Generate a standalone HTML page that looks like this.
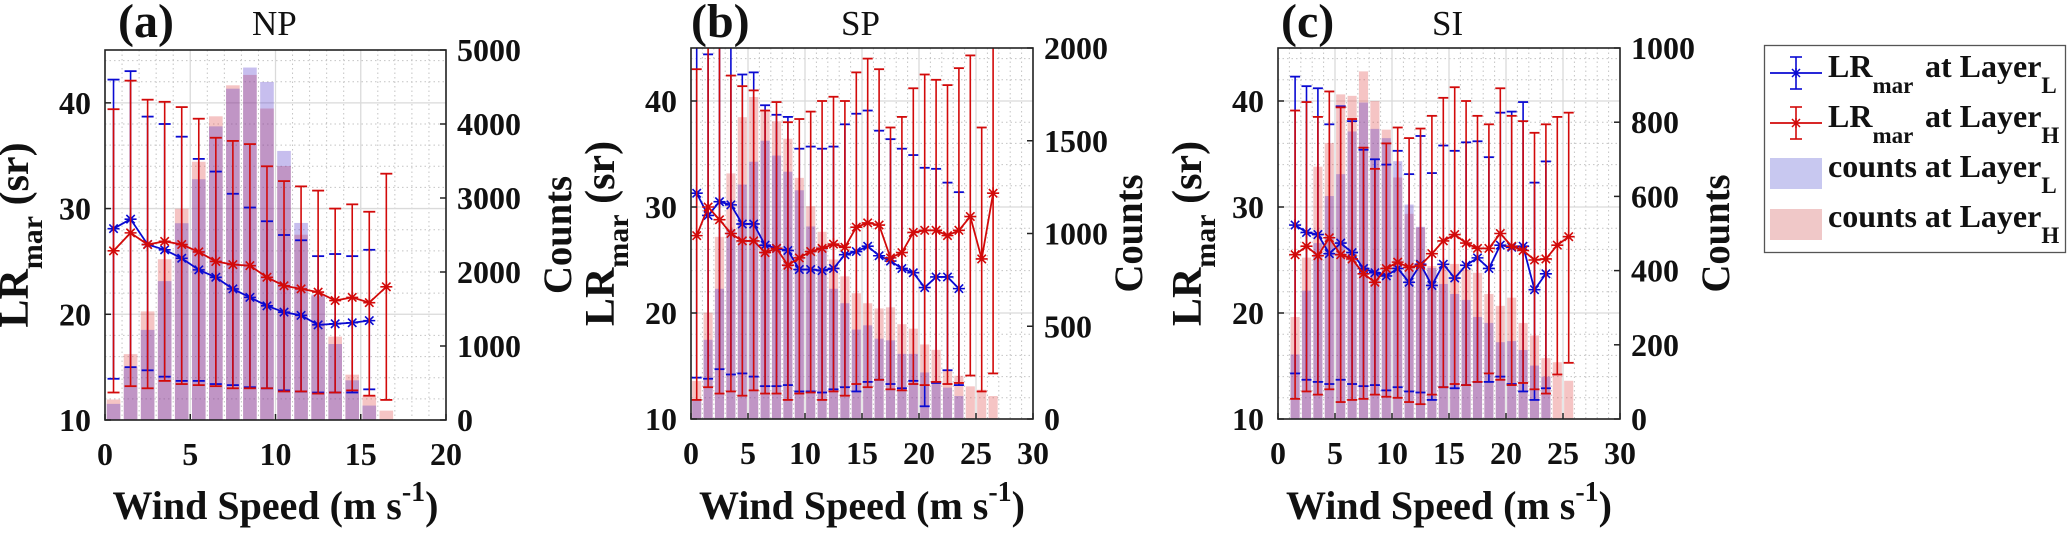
<!DOCTYPE html>
<html><head><meta charset="utf-8"><style>
html,body{margin:0;padding:0;background:#fff;}
svg, svg text{font-family:"Liberation Serif","Times New Roman","DejaVu Serif",serif;}
</style></head><body>
<svg id="fig" width="2067" height="528" viewBox="0 0 2067 528" xmlns="http://www.w3.org/2000/svg"></svg>
<script>
// ---- Panel (a) NP ----
const aBins=[0.5,1.5,2.5,3.5,4.5,5.5,6.5,7.5,8.5,9.5,10.5,11.5,12.5,13.5,14.5,15.5,16.5];
const aCountL=[218,710,1218,1877,2659,3254,3968,4477,4763,4568,3636,2663,1695,1027,536,195];
const aCountH=[277,890,1468,2173,2855,3490,4104,4523,4663,4209,3432,2504,1672,1127,613,332,127];
const aMeanL=[28.1,29.0,26.6,26.1,25.3,24.2,23.5,22.4,21.6,20.8,20.2,19.9,19.0,19.1,19.2,19.4];
const aHiL=[42.2,43.0,38.7,38.0,36.8,34.7,33.5,31.4,30.1,28.8,27.5,27.0,25.5,25.7,25.5,26.1];
const aLoL=[13.9,15.0,14.7,14.1,13.7,13.7,13.4,13.3,13.1,13.0,12.8,12.7,12.6,12.6,12.6,12.9];
const aMeanH=[26.0,27.7,26.6,26.9,26.6,25.9,25.0,24.7,24.6,23.5,22.7,22.4,22.1,21.3,21.6,21.1,22.6];
const aHiH=[39.4,42.1,40.3,40.1,39.6,38.5,36.7,36.4,36.1,34.0,32.6,32.1,31.7,30.0,30.4,29.7,33.3];
const aLoH=[12.6,13.2,13.0,13.7,13.4,13.3,13.2,13.0,13.0,13.0,12.7,12.7,12.5,12.6,12.8,12.3,11.9];
// ---- Panel (b) SP ----
const bBins=[0.5,1.5,2.5,3.5,4.5,5.5,6.5,7.5,8.5,9.5,10.5,11.5,12.5,13.5,14.5,15.5,16.5,17.5,18.5,19.5,20.5,21.5,22.5,23.5,24.5,25.5,26.5];
const bCountL=[100,427,702,1024,1264,1387,1500,1420,1333,1233,1038,933,702,624,482,505,433,424,351,351,251,205,169,124];
const bCountH=[205,573,982,1324,1627,1736,1660,1605,1511,1300,1147,1009,860,769,678,624,596,602,511,487,402,373,264,233,176,158,124];
const bMeanL=[31.3,29.2,30.5,30.2,28.4,28.4,26.4,26.1,25.9,24.1,24.1,24.0,24.2,25.5,25.8,26.3,25.4,24.9,24.2,23.8,22.4,23.4,23.4,22.3];
const bHiL=[47,44.4,47,46,42.5,42.7,39.6,38.7,38.5,35.5,35.7,35.5,35.7,37.8,38.8,39.1,37.2,36.4,35.5,34.9,33.7,33.6,32.3,31.4];
const bLoL=[13.9,13.8,14.7,14.2,14.3,14.0,13.1,13.1,13.2,12.6,12.6,12.5,12.8,13.0,12.6,13.5,13.7,13.3,12.9,13.6,11.2,13.4,14.6,13.2];
const bMeanH=[27.3,30.0,28.8,27.5,26.8,26.8,25.7,26.1,24.5,25.2,25.8,26.1,26.5,26.2,28.1,28.5,28.3,25.2,25.7,27.6,27.8,27.8,27.3,27.8,29.1,25.1,31.3];
const bHiH=[43.0,48,48,42.4,41.4,41.0,39.1,39.9,38.0,38.3,39.0,40.0,40.4,40.0,42.7,44.0,43.0,37.5,38.5,41.2,42.5,42.0,41.5,43.1,44.3,37.5,48];
const bLoH=[11.8,13.0,12.4,12.6,12.2,12.7,12.4,12.4,11.8,12.4,12.5,11.8,12.6,12.2,13.3,13.0,13.7,12.8,12.7,13.3,13.2,13.5,13.3,13.4,14.1,12.6,14.3];
// ---- Panel (c) SI ----
const cBins=[1.5,2.5,3.5,4.5,5.5,6.5,7.5,8.5,9.5,10.5,11.5,12.5,13.5,14.5,15.5,16.5,17.5,18.5,19.5,20.5,21.5,22.5,23.5,24.5,25.5];
const cCountL=[174,346,474,601,660,775,853,782,757,695,578,518,407,364,337,321,275,259,207,210,186,144,114];
const cCountH=[275,435,680,744,875,871,937,857,780,651,553,516,412,416,418,403,394,337,305,327,259,225,164,153,103];
const cMeanL=[28.3,27.6,27.4,25.6,26.6,25.7,24.2,23.8,23.5,24.2,22.9,24.6,22.6,24.6,23.3,24.5,25.2,24.2,26.4,26.2,26.3,22.2,23.7];
const cHiL=[42.3,41.4,41.2,37.8,39.5,38.1,35.4,34.5,34.0,35.3,33.1,36.7,33.2,35.8,35.3,36.1,36.2,34.7,38.9,39.0,39.9,32.3,34.3];
const cLoL=[14.3,13.7,13.5,13.3,13.7,13.3,13.1,13.2,12.7,13.0,12.6,12.5,11.8,13.0,12.9,13.2,13.5,13.5,14.0,13.3,12.6,11.8,12.9];
const cMeanH=[25.5,26.3,25.4,27.1,25.5,25.1,23.7,22.9,24.2,24.8,24.3,24.5,25.6,26.8,27.4,26.6,26.1,26.1,27.5,26.3,25.9,25.0,25.1,26.4,27.2];
const cHiH=[39.1,39.9,38.5,40.9,39.4,38.3,35.6,33.6,36.0,37.5,36.5,37.4,38.6,40.3,41.3,40.0,38.6,37.8,41.2,38.6,38.1,37.0,37.8,38.5,38.9];
const cLoH=[11.9,12.6,12.3,12.8,11.6,11.8,11.9,12.3,12.1,12.0,11.6,11.4,12.3,13.0,13.3,13.2,13.5,14.3,13.7,13.2,13.4,12.8,12.4,14.2,15.3];
// tick labels
const aXTicks=[0,5,10,15,20];
const bcXTicks=[0,5,10,15,20,25,30];
const yTicks=[10,20,30,40];
const aCTicks=[0,1000,2000,3000,4000,5000];
const bCTicks=[0,500,1000,1500,2000];
const cCTicks=[0,200,400,600,800,1000];

const NS="http://www.w3.org/2000/svg";
const FONT='"Liberation Serif","Times New Roman","DejaVu Serif",serif';
const svg=document.getElementById('fig');
function mk(tag,attrs,parent){const e=document.createElementNS(NS,tag);for(const k in attrs)e.setAttribute(k,attrs[k]);if(tag==='text')e.setAttribute('font-family',FONT);(parent||svg).appendChild(e);return e;}
const BLUE='#0a0ad2',RED='#d20a0a';

function panel(p){
  const g=mk('g',{});
  
  
  const X=v=>p.l+(v/p.xmax)*(p.r-p.l);
  const Y=v=>p.b-(v-10)/35*(p.b-p.t);
  const C=v=>p.b-(v/p.cmax)*(p.b-p.t);
  const cid='clip'+p.id;
  const cp=mk('clipPath',{id:cid},g);mk('rect',{x:p.l,y:p.t,width:p.r-p.l,height:p.b-p.t},cp);
  const grid=mk('g',{},g);
  
  
  for(let v=1;v<p.xmax;v++){ if(v%5) mk('line',{x1:X(v),x2:X(v),y1:p.t,y2:p.b,stroke:'#c4c4c4','stroke-width':1,'stroke-dasharray':'1.5 3'},grid);}
  for(let v=12;v<45;v+=2){ if(v%10) mk('line',{x1:p.l,x2:p.r,y1:Y(v),y2:Y(v),stroke:'#c4c4c4','stroke-width':1,'stroke-dasharray':'1.5 3'},grid);}
  p.xt.forEach(v=>mk('line',{x1:X(v),x2:X(v),y1:p.t,y2:p.b,stroke:'#dadada','stroke-width':1.3},grid));
  yTicks.forEach(v=>mk('line',{x1:p.l,x2:p.r,y1:Y(v),y2:Y(v),stroke:'#dadada','stroke-width':1.3},grid));
  const bw=0.8*(X(1)-X(0));
  const bars=mk('g',{'clip-path':'url(#'+cid+')'},g);
  p.cH.forEach((v,i)=>{const r=mk('rect',{x:X(p.bins[i])-bw/2,y:C(v),width:bw,height:p.b-C(v),fill:'rgb(225,70,70)','fill-opacity':0.32},bars);
    
    });
  p.cL.forEach((v,i)=>{const r=mk('rect',{x:X(p.bins[i])-bw/2,y:C(v),width:bw,height:p.b-C(v),fill:'rgb(70,40,200)','fill-opacity':0.3},bars);
    
    });
  const cap=p.cap;
  function series(mean,hi,lo,col,nm){
    const sg=mk('g',{'clip-path':'url(#'+cid+')'},g);
    
    
    mean.forEach((m,i)=>{const x=X(p.bins[i]);
      mk('line',{x1:x,x2:x,y1:Y(hi[i]),y2:Y(lo[i]),stroke:col,'stroke-width':1.6},sg);
      mk('line',{x1:x-cap,x2:x+cap,y1:Y(hi[i]),y2:Y(hi[i]),stroke:col,'stroke-width':1.8},sg);
      mk('line',{x1:x-cap,x2:x+cap,y1:Y(lo[i]),y2:Y(lo[i]),stroke:col,'stroke-width':1.8},sg);});
    const pts=mean.map((m,i)=>X(p.bins[i])+','+Y(m)).join(' ');
    mk('polyline',{points:pts,fill:'none',stroke:col,'stroke-width':1.8},sg);
    mean.forEach((m,i)=>{const x=X(p.bins[i]),y=Y(m),s=6;
      const d=`M${x-s},${y}H${x+s}M${x},${y-s}V${y+s}M${x-s*0.7},${y-s*0.7}L${x+s*0.7},${y+s*0.7}M${x-s*0.7},${y+s*0.7}L${x+s*0.7},${y-s*0.7}`;
      const mkp=mk('path',{d:d,stroke:col,'stroke-width':1.6,fill:'none'},sg);
      
      });
  }
  series(p.mL,p.hL,p.lL,BLUE,'series-lr-l-'+p.id);
  series(p.mH,p.hH,p.lH,RED,'series-lr-h-'+p.id);
  const bx=mk('rect',{x:p.l,y:p.t,width:p.r-p.l,height:p.b-p.t,fill:'none',stroke:'#222','stroke-width':1.6},g);
  
  
  const tf={'font-weight':'bold','font-size':32,fill:'#111'};
  p.xt.forEach(v=>{mk('line',{x1:X(v),x2:X(v),y1:p.b,y2:p.b-6,stroke:'#222','stroke-width':1.5},g);
    const t=mk('text',Object.assign({x:X(v),y:p.b+45,'text-anchor':'middle'},tf),g);t.textContent=v;
    
    });
  yTicks.forEach(v=>{mk('line',{x1:p.l,x2:p.l+6,y1:Y(v),y2:Y(v),stroke:'#222','stroke-width':1.5},g);
    const t=mk('text',Object.assign({x:p.l-14,y:Y(v)+11,'text-anchor':'end'},tf),g);t.textContent=v;
    
    });
  p.ct.forEach(v=>{mk('line',{x1:p.r,x2:p.r-6,y1:C(v),y2:C(v),stroke:'#222','stroke-width':1.5},g);
    const t=mk('text',Object.assign({x:p.r+11,y:C(v)+11,'text-anchor':'start'},tf),g);t.textContent=v;
    
    });
  const yl=mk('text',{transform:`translate(${p.ylx},${(p.t+p.b)/2}) rotate(-90)`,'text-anchor':'middle','font-weight':'bold','font-size':42,fill:'#111'},g);
  yl.innerHTML='LR<tspan font-size="30" dy="14">mar</tspan><tspan dy="-14"> (sr)</tspan>';
  
  
  const cl=mk('text',{transform:`translate(${p.r+p.cOff},${(p.t+p.b)/2}) rotate(-90)`,'text-anchor':'middle','font-weight':'bold','font-size':40,fill:'#111',textLength:118,lengthAdjust:'spacingAndGlyphs'},g);
  cl.textContent='Counts';
  
  
  const xl=mk('text',{x:(p.l+p.r)/2,y:519,'text-anchor':'middle','font-weight':'bold','font-size':40,fill:'#111'},g);
  xl.innerHTML='Wind Speed (m s<tspan font-size="28" dy="-18">-1</tspan><tspan dy="18">)</tspan>';
  
  
  const pl=mk('text',{x:p.tx,y:37,'font-weight':'bold','font-size':48,fill:'#111'},g);
  pl.textContent=p.letter;
  
  
  const rn=mk('text',{x:p.rx,y:35,'font-size':35,fill:'#111'},g);
  rn.textContent=p.region;
  
  
}
panel({id:'a',l:105,r:446,t:50,b:420,xmax:20,cmax:5000,xt:aXTicks,ct:aCTicks,bins:aBins,cL:aCountL,cH:aCountH,mL:aMeanL,hL:aHiL,lL:aLoL,mH:aMeanH,hH:aHiH,lH:aLoH,cap:6,ylx:28,cOff:125,tx:118,rx:252,letter:'(a)',region:'NP'});
panel({id:'b',l:691,r:1033,t:48,b:419,xmax:30,cmax:2000,xt:bcXTicks,ct:bCTicks,bins:bBins,cL:bCountL,cH:bCountH,mL:bMeanL,hL:bHiL,lL:bLoL,mH:bMeanH,hH:bHiH,lH:bLoH,cap:5,ylx:614,cOff:109,tx:691,rx:841,letter:'(b)',region:'SP'});
panel({id:'c',l:1278,r:1620,t:48,b:419,xmax:30,cmax:1000,xt:bcXTicks,ct:cCTicks,bins:cBins,cL:cCountL,cH:cCountH,mL:cMeanL,hL:cHiL,lL:cLoL,mH:cMeanH,hH:cHiH,lH:cLoH,cap:5,ylx:1201,cOff:109,tx:1281,rx:1432,letter:'(c)',region:'SI'});

const lg=mk('g',{});


mk('rect',{x:1764.5,y:45.5,width:301,height:207,fill:'#fff',stroke:'#555','stroke-width':1.3},lg);
[[73,BLUE,'L'],[123,RED,'H']].forEach(([y,c,s])=>{
  const e=mk('g',{},lg);
  
  
  mk('line',{x1:1770,x2:1822,y1:y,y2:y,stroke:c,'stroke-width':1.8},e);
  mk('line',{x1:1796,x2:1796,y1:y-16,y2:y+16,stroke:c,'stroke-width':1.6},e);
  mk('line',{x1:1790,x2:1802,y1:y-16,y2:y-16,stroke:c,'stroke-width':1.6},e);
  mk('line',{x1:1790,x2:1802,y1:y+16,y2:y+16,stroke:c,'stroke-width':1.6},e);
  mk('path',{d:`M1792,${y-4}L1800,${y+4}M1792,${y+4}L1800,${y-4}M1796,${y-5}V${y+5}`,stroke:c,'stroke-width':1.5},e);
  const t=mk('text',{x:1828,y:y+4,'font-weight':'bold','font-size':32,fill:'#111'},e);
  t.innerHTML='LR<tspan font-size="23" dy="16">mar</tspan><tspan x="1925" dy="-16">at Layer</tspan><tspan font-size="23" dy="16">'+s+'</tspan>';
});
[[158,'rgb(200,200,240)','L',177],[209,'rgb(240,200,200)','H',227]].forEach(([y,c,s,by])=>{
  const e=mk('g',{},lg);
  
  
  mk('rect',{x:1770,y:y,width:52,height:31,fill:c},e);
  const t=mk('text',{x:1828,y:by,'font-weight':'bold','font-size':32,fill:'#111'},e);
  t.innerHTML='counts at Layer<tspan font-size="23" dy="16">'+s+'</tspan>';
});
</script>
</body></html>
